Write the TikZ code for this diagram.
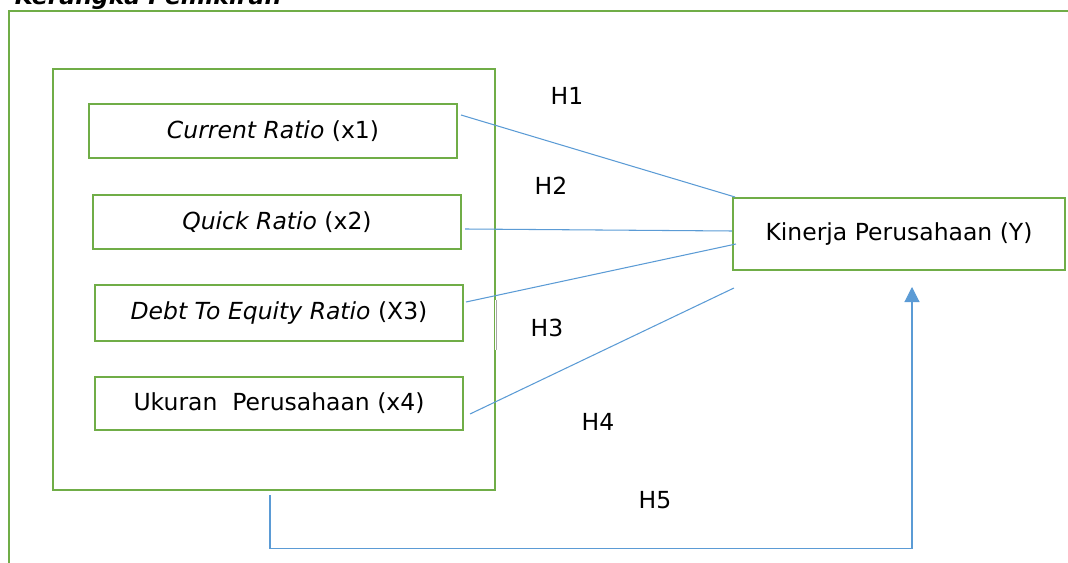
\documentclass[tikz,border=0pt]{standalone}
\usepackage{fontspec}
\setmainfont{DejaVu Sans}
\usepackage{xcolor}
\usetikzlibrary{arrows.meta}

\definecolor{framegreen}{HTML}{70AD47}
\definecolor{linkblue}{HTML}{5B9BD5}

\begin{document}
\begin{tikzpicture}[x=0.025cm, y=-0.025cm]
    \tikzstyle{every node}=[font=\fontsize{16.7}{20}\selectfont]
    \tikzstyle{varbox}=[draw=framegreen, line width=1.4pt, inner sep=0pt, minimum width=9.2cm, minimum height=1.35cm]
    \tikzstyle{link}=[draw=linkblue, line width=0.75pt]

    \useasboundingbox (0,0) rectangle (1068,563);
    \clip (0,0) rectangle (1068,563);

    % Title and outer frame
    \node[anchor=base west, font=\fontsize{16.7}{20}\selectfont\bfseries\itshape] (title) at (10,5) {Kerangka Pemikiran};
    \draw[framegreen, line width=1.4pt] (1100,11) -- (9,11) -- (9,600);

    % Independent variables
    \node[draw=framegreen, line width=1.4pt, minimum width=11.05cm, minimum height=10.525cm] (grp) at (274,279.5) {};
    \draw[white, line width=2pt] ([shift={(0,20.5)}]grp.east) -- ([shift={(0,70.5)}]grp.east);
    \draw[black!35, line width=0.4pt] ([shift={(0,20.5)}]grp.east) -- ([shift={(0,70.5)}]grp.east);

    \node[varbox] (cr) at (273,131) {\textit{Current Ratio} (x1)};
    \node[varbox] (qr) at (277,222) {\textit{Quick Ratio} (x2)};
    \node[varbox, minimum height=1.4cm] (der) at (279,313) {\textit{Debt To Equity Ratio} (X3)};
    \node[varbox, minimum height=1.325cm] (size) at (279,403.5) {Ukuran~~Perusahaan (x4)};

    % Dependent variable
    \node[draw=framegreen, line width=1.4pt, minimum width=8.3cm, minimum height=1.8cm] (kin) at (899,234) {Kinerja Perusahaan (Y)};

    % Hypotheses
    \draw[link] ([shift={(3,12)}]cr.north east) -- ([shift={(3,0)}]kin.north west);
    \draw[link] ([shift={(3,7)}]qr.east) -- ([shift={(0,-3)}]kin.west);
    \draw[link] ([shift={(2,-11)}]der.east) -- ([shift={(4,10)}]kin.west);
    \draw[link] ([shift={(6,10.5)}]size.east) -- ([shift={(2,17)}]kin.south west);
    \draw[link, -{Triangle[length=10.7pt, width=10.7pt]}] ([shift={(-4,4)}]grp.south) -- ++(0,53) -| ([shift={(13,16)}]kin.south);

    \node (h1) at (567,96) {H1};
    \node (h2) at (551,186) {H2};
    \node (h3) at (547,328) {H3};
    \node (h4) at (598,422) {H4};
    \node (h5) at (655,500) {H5};
\end{tikzpicture}
\end{document}
